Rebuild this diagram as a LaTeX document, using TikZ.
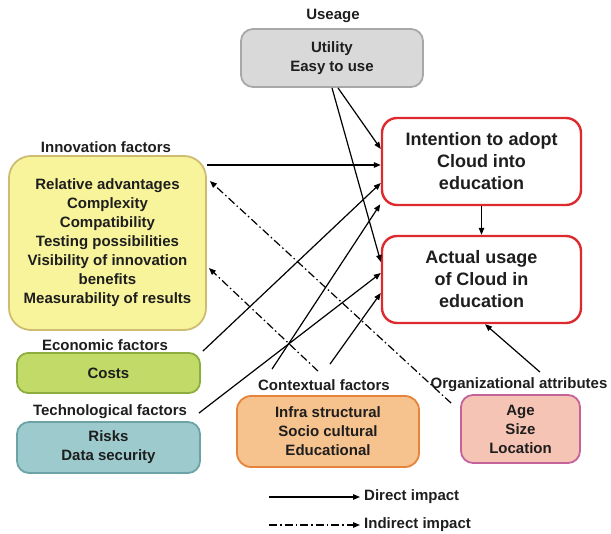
\documentclass[tikz,border=0pt]{standalone}
\usepackage{fontspec}
\setmainfont{Liberation Sans}
\usetikzlibrary{arrows.meta,calc}
\definecolor{txt}{HTML}{1E1E1E}
\definecolor{usefill}{HTML}{D9D9D9}
\definecolor{usedraw}{HTML}{A8A8A8}
\definecolor{redb}{HTML}{DC2A2E}
\definecolor{innfill}{HTML}{F8F49C}
\definecolor{inndraw}{HTML}{CDBC72}
\definecolor{ecofill}{HTML}{C2DA68}
\definecolor{ecodraw}{HTML}{8DAE3E}
\definecolor{tecfill}{HTML}{9DCACC}
\definecolor{tecdraw}{HTML}{6CA3A6}
\definecolor{ctxfill}{HTML}{F6C28E}
\definecolor{ctxdraw}{HTML}{E6843C}
\definecolor{orgfill}{HTML}{F6C4B4}
\definecolor{orgdraw}{HTML}{C4629A}
\begin{document}
\begin{tikzpicture}[x=1pt,y=-1pt,
  every node/.style={text=txt},
  factbox/.style={rectangle,line width=1.8pt,inner sep=0pt,align=center,
    font=\fontsize{15}{19}\selectfont\bfseries},
  bigbox/.style={factbox,draw=redb,fill=white,line width=2.4pt,rounded corners=15pt,
    minimum width=199pt,minimum height=87pt,font=\fontsize{18}{22}\selectfont\bfseries},
  grouplabel/.style={font=\fontsize{15}{18}\selectfont\bfseries,inner sep=0pt},
  direct/.style={line width=1.2pt,-{Triangle[length=7pt,width=5.5pt]}},
  indirect/.style={line width=1.2pt,-{Triangle[length=7pt,width=5.5pt]},
    dash pattern=on 8pt off 3pt on 1.5pt off 3pt}]
\useasboundingbox (0,0) rectangle (611,534);

% boxes
\node[factbox,fill=usefill,draw=usedraw,rounded corners=12pt,minimum width=182pt,minimum height=58pt] (use) at (332,58) {Utility\\Easy to use};
\node[bigbox] (int) at (481.5,161.5) {Intention to adopt\\Cloud into\\education};
\node[bigbox] (act) at (481.5,279.5) {Actual usage\\of Cloud in\\education};
\node[factbox,fill=innfill,draw=inndraw,rounded corners=22pt,minimum width=197pt,minimum height=174pt] (inn) at (107.5,243) {Relative advantages\\Complexity\\Compatibility\\Testing possibilities\\Visibility of innovation\\benefits\\Measurability of results};
\node[factbox,fill=ecofill,draw=ecodraw,rounded corners=11pt,minimum width=183pt,minimum height=40pt] (eco) at (108.5,373) {Costs};
\node[factbox,fill=tecfill,draw=tecdraw,rounded corners=12pt,minimum width=183pt,minimum height=51pt] (tec) at (108.5,447.5) {Risks\\Data security};
\node[factbox,fill=ctxfill,draw=ctxdraw,rounded corners=14pt,minimum width=182pt,minimum height=71pt] (ctx) at (328,431.5) {Infra structural\\Socio cultural\\Educational};
\node[factbox,fill=orgfill,draw=orgdraw,rounded corners=12pt,minimum width=119pt,minimum height=68pt] (org) at (520.5,429) {Age\\Size\\Location};

% group labels
\node[grouplabel] (useL) at (333,16) {Useage};
\node[grouplabel] (innL) at (106,147) {Innovation factors};
\node[grouplabel] (ecoL) at (105,345) {Economic factors};
\node[grouplabel] (tecL) at (110,412) {Technological factors};
\node[grouplabel] (ctxL) at (324,385) {Contextual factors};
\node[grouplabel] (orgL) at (519,385) {Organizational attributes};

% connector end points
\coordinate (u1) at ([xshift=6pt]use.south);
\coordinate (u2) at (use.south);
\coordinate (i1) at ([yshift=78pt]inn.east);
\coordinate (e1) at ([shift={(2pt,1pt)}]eco.north east);
\coordinate (t1) at ([shift={(-2pt,8pt)}]tec.north east);
\coordinate (c1) at ([shift={(-56pt,26pt)}]ctx.north);
\coordinate (c2) at ([shift={(2pt,31pt)}]ctx.north);
\coordinate (c3) at ([shift={(-10pt,24pt)}]ctx.north);
\coordinate (o1) at ([shift={(19.5pt,22pt)}]org.north);
\coordinate (o2) at ([shift={(-9pt,-9pt)}]org.north west);

% direct impacts
\draw[direct] (u1) -- ([yshift=12.5pt]int.west);
\draw[direct] (u2) -- ([yshift=17.5pt]act.west);
\draw[direct] (i1) -- (i1 -| int.west);
\draw[direct] (e1) -- ([yshift=-21.5pt]int.west);
\draw[direct] (c1) -- ([shift={(-0.5pt,2pt)}]int.south west);
\draw[direct] (t1) -- ([yshift=6.5pt]act.west);
\draw[direct] (c2) -- ([yshift=-13.5pt]act.west);
\draw[direct] (o1) -- ([xshift=3.5pt]act.south);
\draw[direct] (int.south) -- (act.north);

% indirect impacts
\draw[indirect] (o2) -- ([shift={(3pt,62pt)}]inn.east);
\draw[indirect] (c3) -- ([shift={(2pt,-25pt)}]inn.east);

% legend
\coordinate (l1) at (269,497);
\coordinate (l2) at (269,525);
\node[grouplabel,anchor=west] (dlab) at (364,497) {Direct impact};
\node[grouplabel,anchor=west] (ilab) at (364,525) {Indirect impact};
\draw[direct] (l1) -- ([xshift=-4pt]dlab.west);
\draw[indirect] (l2) -- ([xshift=-4pt]ilab.west);
\end{tikzpicture}
\end{document}
